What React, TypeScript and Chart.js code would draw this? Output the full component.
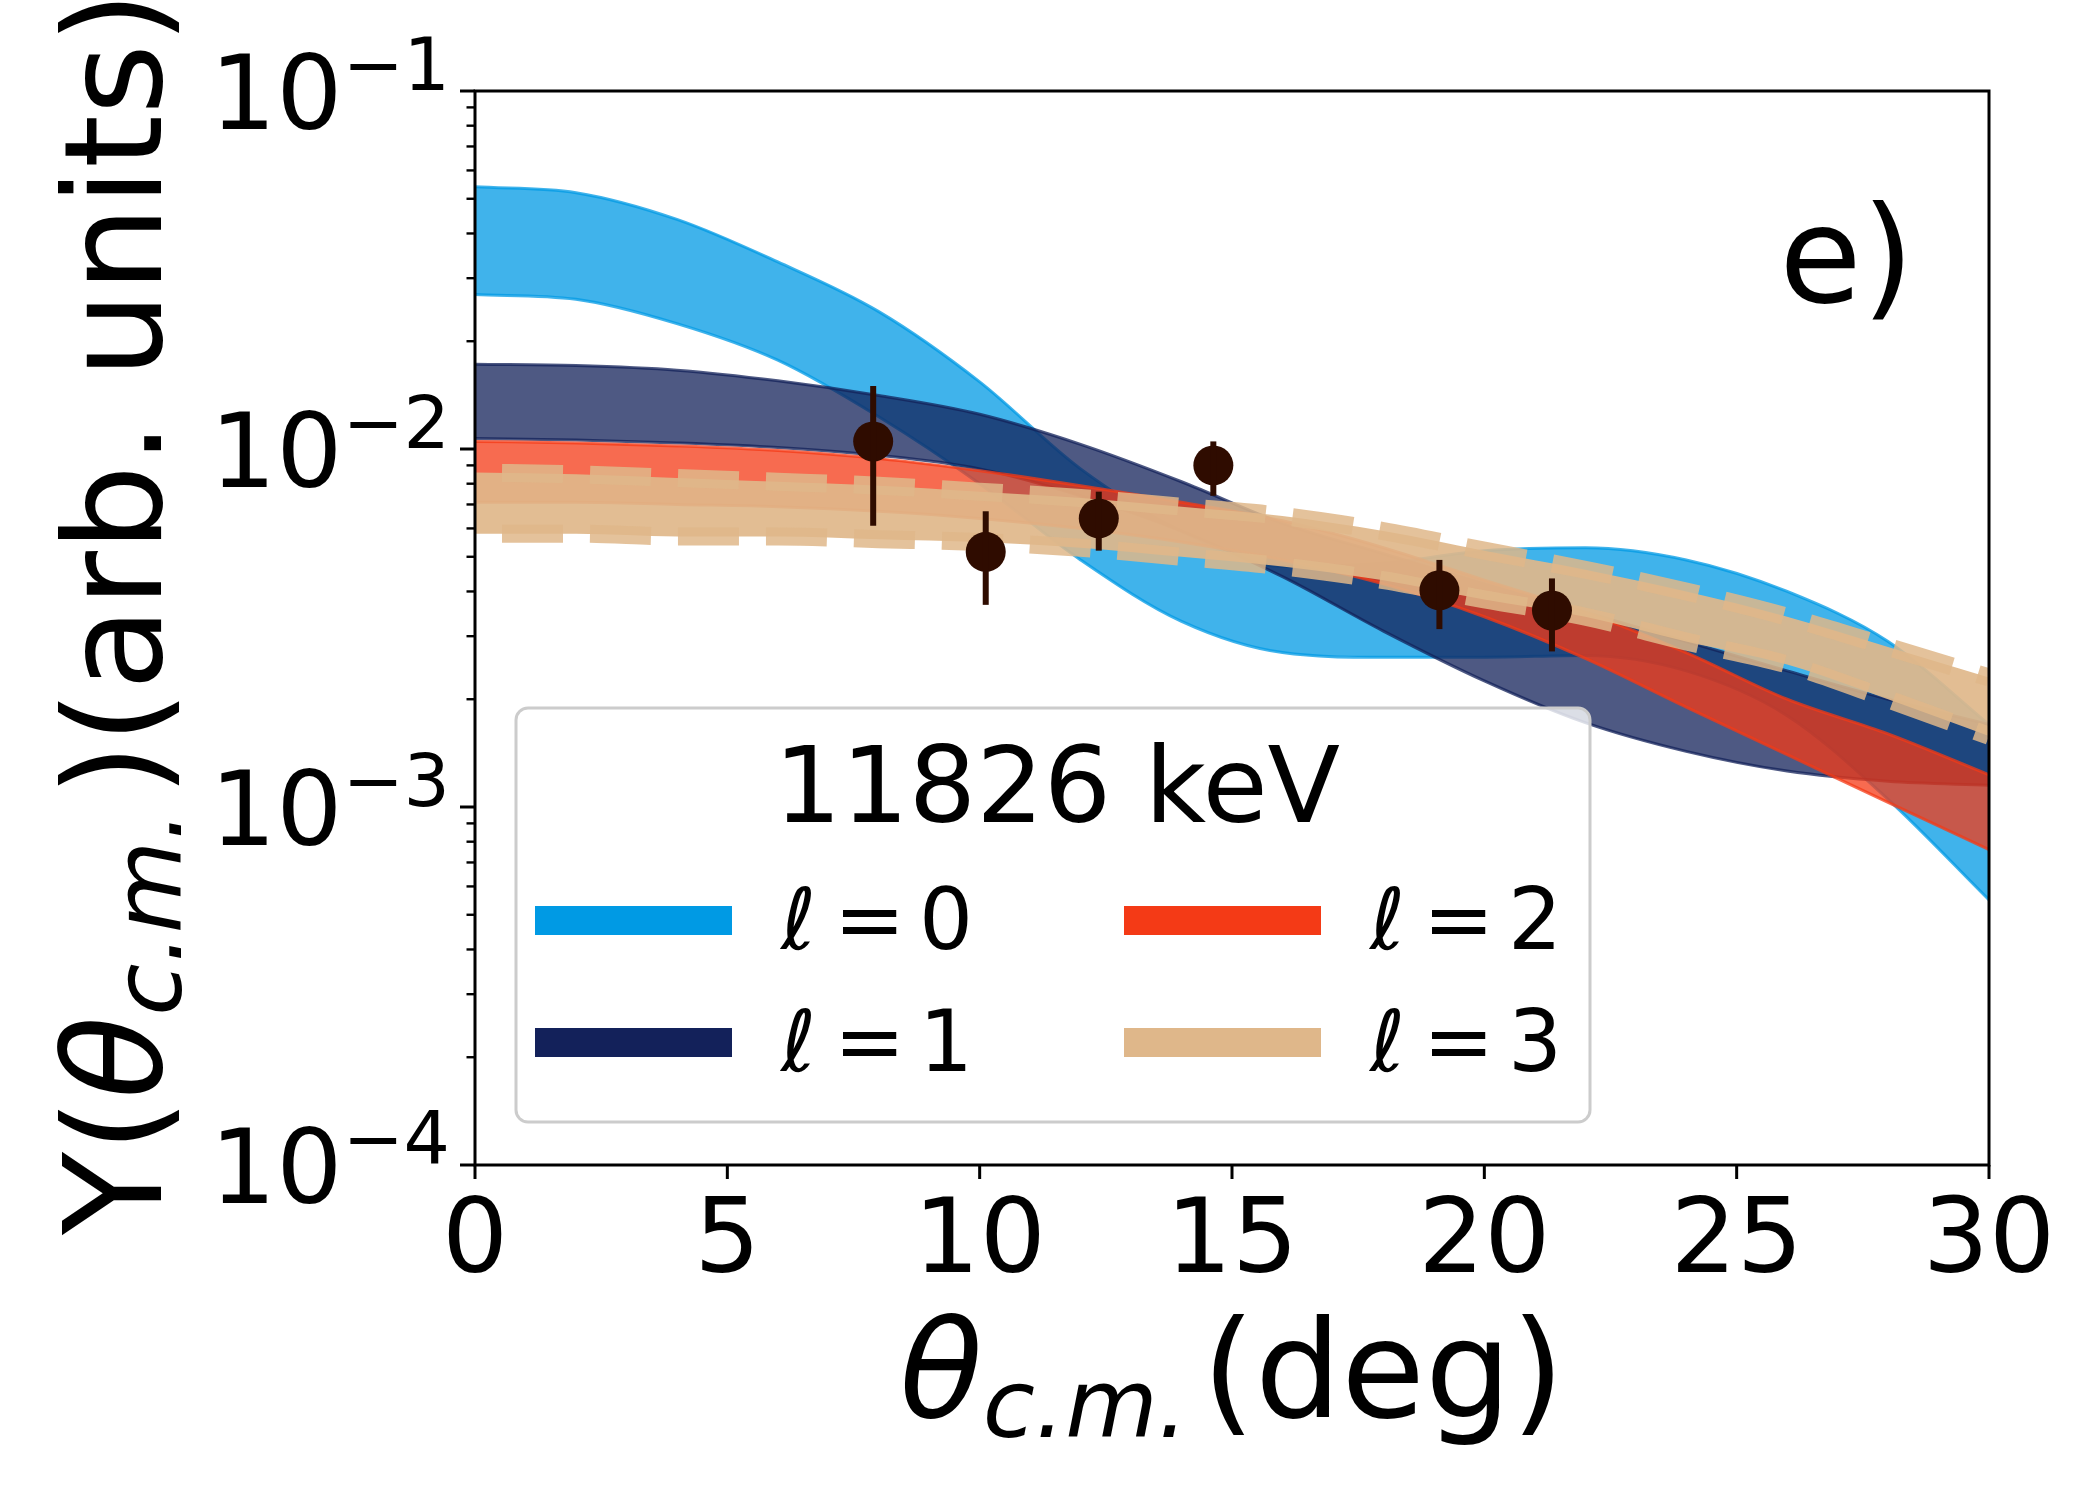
import { useEffect, useRef } from "react";
import { Chart, registerables, type Plugin } from "chart.js";

Chart.register(...registerables);

// scattering angle grid for the calculated bands (deg)
const angles = [0, 2, 4, 6, 8, 10, 12, 14, 16, 18, 20, 22, 24, 26, 28, 30];

// l = 0 band
const l0Upper = [0.054, 0.052, 0.0438, 0.0333, 0.0242, 0.0154, 0.0088, 0.0059, 0.0047, 0.0048, 0.0052, 0.0053, 0.0049, 0.004, 0.0029, 0.0017];
const l0Lower = [0.027, 0.0262, 0.0224, 0.0177, 0.0123, 0.008, 0.0049, 0.0033, 0.0027, 0.00262, 0.00262, 0.00265, 0.0024, 0.0018, 0.00105, 0.00055];
// l = 1 band
const l1Upper = [0.01725, 0.0171, 0.0166, 0.0155, 0.0141, 0.0125, 0.0103, 0.0081, 0.0062, 0.0051, 0.0042, 0.0035, 0.0029, 0.0024, 0.002, 0.0017];
const l1Lower = [0.0107, 0.0106, 0.0104, 0.0101, 0.0096, 0.0088, 0.0074, 0.0059, 0.0044, 0.0031, 0.00225, 0.00172, 0.00143, 0.00126, 0.00118, 0.00115];
// l = 2 band
const l2Upper = [0.0105, 0.0104, 0.0102, 0.0099, 0.0094, 0.0087, 0.0079, 0.0071, 0.0063, 0.0053, 0.0043, 0.0035, 0.0027, 0.002, 0.0016, 0.00123];
const l2Lower = [0.0071, 0.0071, 0.007, 0.0069, 0.0067, 0.0064, 0.006, 0.0055, 0.0049, 0.0042, 0.0034, 0.0026, 0.0019, 0.0014, 0.00103, 0.00076];
// l = 3 band
const l3Upper = [0.0086, 0.0085, 0.0083, 0.0081, 0.0079, 0.0076, 0.0073, 0.0069, 0.0065, 0.0059, 0.0052, 0.0046, 0.004, 0.0034, 0.0028, 0.0023];
const l3Lower = [0.0058, 0.0058, 0.0057, 0.0057, 0.0056, 0.0055, 0.0053, 0.005, 0.0047, 0.0043, 0.0038, 0.0034, 0.0029, 0.0025, 0.002, 0.00158];

// measured yields
const dataAngles = [7.89, 10.12, 12.36, 14.63, 19.11, 21.34];
const dataYield = [0.0105, 0.00516, 0.0064, 0.009, 0.00403, 0.00354];
const dataLow = [0.0061, 0.00367, 0.0052, 0.0074, 0.00314, 0.00272];
const dataHigh = [0.015, 0.0067, 0.0076, 0.0105, 0.0049, 0.00435];

const xTicks = [0, 5, 10, 15, 20, 25, 30];
const yDecades = [-4, -3, -2, -1];
const legendTitle = "11826 keV";
const panelLabel = "e)";

const BLUE = [0, 154, 228];
const NAVY = [19, 33, 90];
const RED = [244, 58, 22];
const TAN = [223, 183, 138];
const POINT = "#2f0c00";
const FONT = '"DejaVu Sans"';

const rgba = (c: number[], a = 1) => `rgba(${c[0]},${c[1]},${c[2]},${a})`;
const pts = (ys: number[]) => angles.map((a, i) => ({ x: a, y: ys[i] }));

type Run = { text: string; size: number; italic?: boolean; dy?: number; gap?: number };

function drawRuns(ctx: CanvasRenderingContext2D, runs: Run[], cx: number, y: number) {
  const widths = runs.map((r) => {
    ctx.font = `${r.italic ? "italic " : ""}${r.size}px ${FONT}`;
    return ctx.measureText(r.text).width + (r.gap || 0);
  });
  let x = cx - widths.reduce((s, w) => s + w, 0) / 2;
  ctx.textAlign = "left";
  ctx.textBaseline = "alphabetic";
  runs.forEach((r, i) => {
    ctx.font = `${r.italic ? "italic " : ""}${r.size}px ${FONT}`;
    ctx.fillText(r.text, x, y + (r.dy || 0));
    x += widths[i];
  });
}

const legendItems = [
  { l: "0", color: BLUE, col: 0, row: 0 },
  { l: "1", color: NAVY, col: 0, row: 1 },
  { l: "2", color: RED, col: 1, row: 0 },
  { l: "3", color: TAN, col: 1, row: 1 },
];

const decorations: Plugin<"line"> = {
  id: "decorations",
  beforeDraw(chart) {
    const ctx = chart.ctx;
    ctx.save();
    ctx.fillStyle = "#ffffff";
    ctx.fillRect(0, 0, chart.width, chart.height);
    ctx.restore();
  },
  afterDatasetsDraw(chart) {
    const { ctx, scales } = chart;
    const x = scales.x;
    const y = scales.y;
    ctx.save();
    // error bars
    ctx.strokeStyle = POINT;
    ctx.lineWidth = 6;
    dataAngles.forEach((a, i) => {
      const px = x.getPixelForValue(a);
      ctx.beginPath();
      ctx.moveTo(px, y.getPixelForValue(dataHigh[i]));
      ctx.lineTo(px, y.getPixelForValue(dataLow[i]));
      ctx.stroke();
    });

    // legend
    const bx = 516, by = 708, bw = 1074, bh = 414, r = 12;
    ctx.beginPath();
    ctx.roundRect(bx, by, bw, bh, r);
    ctx.fillStyle = "rgba(255,255,255,0.8)";
    ctx.fill();
    ctx.lineWidth = 3;
    ctx.strokeStyle = "#cccccc";
    ctx.stroke();

    ctx.fillStyle = "#000";
    ctx.font = `106px ${FONT}`;
    ctx.textAlign = "center";
    ctx.textBaseline = "alphabetic";
    ctx.fillText(legendTitle, 1057, 822);

    legendItems.forEach((it) => {
      const ox = it.col * 589;
      const cy = 920.5 + it.row * 122;
      ctx.lineCap = "butt";
      ctx.lineWidth = 29;
      ctx.strokeStyle = rgba(it.color);
      ctx.beginPath();
      ctx.moveTo(535 + ox, cy);
      ctx.lineTo(732 + ox, cy);
      ctx.stroke();
      const base = cy + 28.5;
      ctx.fillStyle = "#000";
      ctx.textAlign = "left";
      ctx.font = `italic 85px ${FONT}`;
      ctx.fillText("ℓ", 781 + ox, base);
      ctx.font = `85px ${FONT}`;
      ctx.fillText("=", 834 + ox, base);
      ctx.fillText(it.l, 919 + ox, base);
    });
    ctx.restore();
  },
  afterDraw(chart) {
    const { ctx, chartArea: a, scales } = chart;
    const x = scales.x;
    const y = scales.y;
    ctx.save();
    ctx.strokeStyle = "#000";
    ctx.fillStyle = "#000";
    ctx.lineWidth = 3;
    ctx.strokeRect(a.left, a.top, a.right - a.left, a.bottom - a.top);

    // x ticks
    ctx.font = `104px ${FONT}`;
    ctx.textAlign = "center";
    ctx.textBaseline = "alphabetic";
    xTicks.forEach((v) => {
      const px = x.getPixelForValue(v);
      ctx.beginPath();
      ctx.moveTo(px, a.bottom);
      ctx.lineTo(px, a.bottom + 14);
      ctx.stroke();
      ctx.fillText(String(v), px, a.bottom + 107);
    });

    // y ticks, major + minor
    yDecades.forEach((d) => {
      const py = y.getPixelForValue(Math.pow(10, d));
      ctx.lineWidth = 3;
      ctx.beginPath();
      ctx.moveTo(a.left - 15, py);
      ctx.lineTo(a.left, py);
      ctx.stroke();
      if (d < -1) {
        ctx.lineWidth = 2.4;
        for (let m = 2; m <= 9; m++) {
          const pm = y.getPixelForValue(m * Math.pow(10, d));
          ctx.beginPath();
          ctx.moveTo(a.left - 8.5, pm);
          ctx.lineTo(a.left, pm);
          ctx.stroke();
        }
      }
      const sup = `\u2212${-d}`;
      ctx.textAlign = "left";
      ctx.font = `73px ${FONT}`;
      const ws = ctx.measureText(sup).width;
      ctx.font = `104px ${FONT}`;
      const wb = ctx.measureText("10").width;
      const right = a.left - 25;
      ctx.fillText("10", right - ws - wb, py + 38);
      ctx.font = `73px ${FONT}`;
      ctx.fillText(sup, right - ws, py - 1);
    });

    // axis titles
    drawRuns(
      ctx,
      [
        { text: "θ", size: 136, italic: true },
        { text: "c.m.", size: 95, italic: true, dy: 20, gap: 14 },
        { text: "(deg)", size: 136 },
      ],
      (a.left + a.right) / 2,
      1417
    );
    ctx.save();
    ctx.translate(161, 613);
    ctx.rotate(-Math.PI / 2);
    drawRuns(
      ctx,
      [
        { text: "Y(", size: 136 },
        { text: "θ", size: 136, italic: true },
        { text: "c.m.", size: 95, italic: true, dy: 20, gap: 14 },
        { text: ")(arb. units)", size: 136 },
      ],
      0,
      0
    );
    ctx.restore();

    // panel label
    ctx.font = `134px ${FONT}`;
    ctx.textAlign = "right";
    ctx.fillText(panelLabel, 1914, 302);
    ctx.restore();
  },
};

const curve = { pointRadius: 0, cubicInterpolationMode: "monotone" as const, clip: 0 };

function band(upper: number[], lower: number[], color: number[], order: number) {
  const common = { ...curve, borderWidth: 3, borderColor: rgba(color, 0.75) };
  return [
    { ...common, label: "upper", data: pts(upper), fill: false, order: order + 1 },
    { ...common, label: "lower", data: pts(lower), fill: "-1", backgroundColor: rgba(color, 0.75), order },
  ];
}

export default function App() {
  const canvasRef = useRef<HTMLCanvasElement | null>(null);

  useEffect(() => {
    if (!canvasRef.current) return;
    const tanFill = { ...curve, borderWidth: 0 };
    const tanDash = {
      ...curve,
      borderWidth: 18,
      borderColor: rgba(TAN, 0.85),
      borderDash: [61, 27],
      borderDashOffset: 61,
      borderCapStyle: "butt" as const,
      fill: false,
    };
    const datasets: any[] = [
      ...band(l0Upper, l0Lower, BLUE, 19),
      ...band(l1Upper, l1Lower, NAVY, 17),
      ...band(l2Upper, l2Lower, RED, 15),
      { ...tanFill, label: "l3 fill top", data: pts(l3Upper), fill: false, order: 14 },
      { ...tanFill, label: "l3 fill", data: pts(l3Lower), fill: "-1", backgroundColor: rgba(TAN, 0.92), order: 13 },
      { ...tanDash, label: "l3 upper", data: pts(l3Upper), order: 12 },
      { ...tanDash, label: "l3 lower", data: pts(l3Lower), order: 11 },
      {
        label: "data",
        data: dataAngles.map((a, i) => ({ x: a, y: dataYield[i] })),
        showLine: false,
        pointRadius: 20,
        pointBackgroundColor: POINT,
        pointBorderWidth: 0,
        clip: false,
        order: 0,
      },
    ];

    const chart = new Chart(canvasRef.current, {
      type: "line",
      data: { datasets },
      options: {
        animation: false,
        responsive: false,
        devicePixelRatio: 1,
        layout: { padding: { left: 475, right: 111, top: 91, bottom: 335 } },
        scales: {
          x: { type: "linear", min: 0, max: 30, display: false },
          y: { type: "logarithmic", min: 1e-4, max: 1e-1, display: false },
        },
        plugins: { legend: { display: false }, tooltip: { enabled: false } },
      },
      plugins: [decorations],
    });
    return () => chart.destroy();
  }, []);

  return (
    <div style={{ position: "absolute", left: 0, top: 0, width: 2100, height: 1500, background: "#fff" }}>
      <canvas ref={canvasRef} width={2100} height={1500} style={{ width: 2100, height: 1500 }} />
    </div>
  );
}
